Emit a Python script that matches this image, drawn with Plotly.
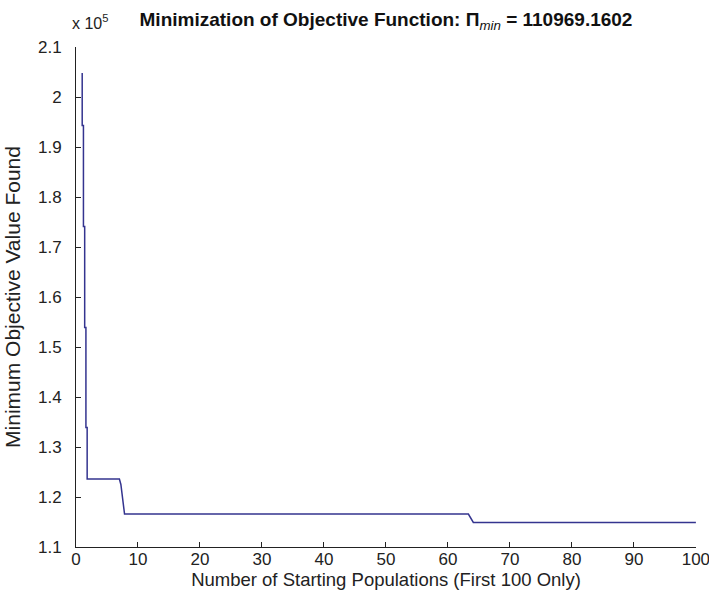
import plotly.graph_objects as go

# Data (x: population index, y: minimum objective value found)
x_vals = [1.0, 1.0, 1.2, 1.2, 1.4, 1.4, 1.6, 1.6, 1.8, 1.8, 7.0, 7.24, 7.83, 63.3, 64.1, 100.0]
y_vals = [204800, 194300, 194300, 174100, 174100, 153900, 153900, 133900, 133900, 123600,
          123600, 122500, 116600, 116600, 114900, 114900]

x_ticks = [0, 10, 20, 30, 40, 50, 60, 70, 80, 90, 100]
y_ticks = [110000, 120000, 130000, 140000, 150000, 160000, 170000, 180000, 190000, 200000, 210000]
y_tick_labels = ["1.1", "1.2", "1.3", "1.4", "1.5", "1.6", "1.7", "1.8", "1.9", "2", "2.1"]

title_text = "<b>Minimization of Objective Function: Π</b><sub><i>min</i></sub><b> = 110969.1602</b>"
x_title = "Number of Starting Populations (First 100 Only)"
y_title = "Minimum Objective Value Found"

FONT = "Liberation Sans, Arial, sans-serif"

fig = go.Figure()
fig.add_trace(go.Scatter(x=x_vals, y=y_vals, mode="lines",
                         line=dict(color="#34348f", width=1.5),
                         showlegend=False, hoverinfo="skip", cliponaxis=False))

fig.update_layout(
    width=709, height=603,
    margin=dict(l=76, r=13, t=47, b=56),
    paper_bgcolor="white", plot_bgcolor="white",
    font=dict(family=FONT, size=17, color="#222222"),
    title=dict(text=title_text, x=0.5, xref="paper", xanchor="center",
               y=1, yref="container", yanchor="top", pad=dict(t=13),
               font=dict(family=FONT, size=19, color="#111111")),
)
fig.update_xaxes(range=[0, 100.02], tickvals=x_ticks, ticks="inside", ticklen=5,
                 tickcolor="#222222", showline=True, linecolor="#222222", linewidth=1,
                 showgrid=False, zeroline=False, mirror=False, automargin=False,
                 ticklabelstandoff=-3, ticklabeloverflow="allow",
                 title=dict(text=x_title, standoff=3, font=dict(size=18.5)),
                 tickfont=dict(size=17))
fig.update_yaxes(range=[110000, 210000], tickvals=y_ticks, ticktext=y_tick_labels,
                 ticks="inside", ticklen=5, tickcolor="#222222",
                 showline=True, linecolor="#222222", linewidth=1,
                 showgrid=False, zeroline=False, mirror=False, automargin=False,
                 ticklabelstandoff=10,
                 title=dict(text=y_title, standoff=11, font=dict(size=21)),
                 tickfont=dict(size=17))

fig.add_annotation(text="x 10<sup>5</sup>", xref="paper", yref="paper",
                   x=0, y=1, xanchor="left", yanchor="bottom", xshift=-6, yshift=13,
                   showarrow=False, font=dict(family=FONT, size=16, color="#222222"))

fig.write_html("out.html", config={"displayModeBar": False},
               post_script="document.body.style.margin='0';")
